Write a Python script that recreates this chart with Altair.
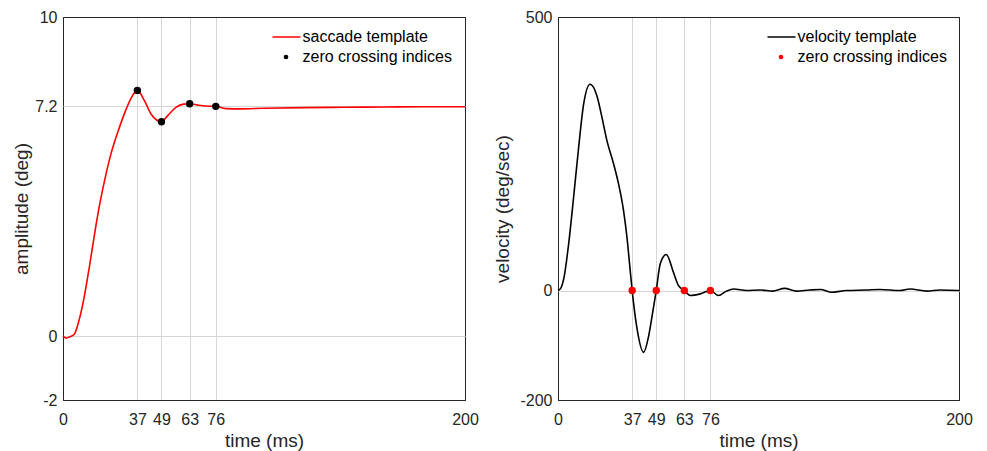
import altair as alt
import pandas as pd

FONT = "Liberation Sans"
TXT = "#262626"
GRID = "#d6d6d6"

# ---------------- data ----------------
# time axis tick labels / zero crossing indices (ms)
x_ticks = [0, 37, 49, 63, 76, 200]
zc_t = [37, 49, 63, 76]

# left panel: saccade (amplitude) template, deg
amp_t = [0, 1.5, 3, 5.7, 8.2, 10.7, 13.2, 15.7, 18.1, 20.6, 23.9, 27.2, 30.6, 33.9,
         37, 40.5, 43.8, 49, 52.1, 56.2, 60, 63, 67, 71, 76, 81, 88, 100, 120, 140,
         160, 180, 200]
amp_v = [0, -0.06, -0.03, 0.07, 0.55, 1.28, 2.2, 3.2, 4.08, 4.85, 5.72, 6.38, 6.98, 7.46,
         7.70, 7.38, 6.96, 6.72, 6.91, 7.17, 7.27, 7.28, 7.24, 7.21, 7.20, 7.13, 7.12, 7.14,
         7.16, 7.17, 7.18, 7.19, 7.19]
amp_zc = [7.70, 6.72, 7.28, 7.20]
amp_ticks = [-2, 0, 7.2, 10]

# right panel: velocity template, deg/sec
vel_t = [0, 1.5, 3, 5.3, 7.8, 10.3, 12.8, 16, 19.4, 21.9, 24.4, 27.7, 30.2, 32.7, 34.4,
         36, 37, 39.3, 42.7, 45.1, 47, 49, 51, 54, 57.6, 60.1, 63, 66, 71, 76, 80, 84,
         87.5, 94, 101, 107, 113, 119, 125.5, 131, 136, 144, 154, 160.5, 170.5, 175.5,
         184, 190.5, 200]
vel_v = [0, 5, 24, 85, 171, 262, 341, 377, 356, 317, 274, 232, 195, 146, 97,
         37, 0, -67, -113, -85, -45, 0, 49, 66, 33, 9, 0, -9, -6, 0, -9, -1,
         3, 0, 1, -1, 4, -1, 1, 2, -3, 0, 1, 2, 0, 3,
         -1, 1, 0]
vel_zc = [0, 0, 0, 0]
vel_ticks = [-200, 0, 500]


def edge_color(lo, hi):
    test = f"datum.value == {lo} || datum.value == {hi}"
    return alt.condition(test, alt.value(TXT), alt.value(GRID))


def panel(t, v, zc_v, line_name, line_color, dot_color, y_title, y_dom, y_vals,
          title_pad, width):
    df_line = pd.DataFrame({"t": t, "v": v, "series": line_name})
    df_pts = pd.DataFrame({"t": zc_t, "v": zc_v, "kind": "zero crossing indices"})

    x = alt.X("t:Q", title="time (ms)",
              scale=alt.Scale(domain=[0, 200], nice=False, zero=False),
              axis=alt.Axis(values=x_ticks, labelExpr="datum.value + ''",
                            labelFlush=False, labelOverlap=False, grid=True,
                            gridColor=edge_color(0, 200),
                            labelPadding=11, titlePadding=4))
    y = alt.Y("v:Q", title=y_title,
              scale=alt.Scale(domain=y_dom, nice=False, zero=False),
              axis=alt.Axis(values=y_vals, labelExpr="datum.value + ''",
                            labelFlush=False, labelOverlap=False, grid=True,
                            gridColor=edge_color(y_dom[0], y_dom[1]),
                            labelPadding=6, titlePadding=title_pad))

    line = alt.Chart(df_line).mark_line(strokeWidth=1.6, interpolate="monotone").encode(
        x=x, y=y,
        stroke=alt.Stroke("series:N",
                          scale=alt.Scale(domain=[line_name], range=[line_color]),
                          legend=alt.Legend(orient="none", legendX=208.5, legendY=5,
                                            title=None, symbolType="stroke",
                                            symbolSize=784, symbolStrokeWidth=1.5,
                                            labelOffset=1, padding=0)))
    pts = alt.Chart(df_pts).mark_circle(size=55, opacity=1).encode(
        x=x, y=y,
        fill=alt.Fill("kind:N",
                      scale=alt.Scale(domain=["zero crossing indices"], range=[dot_color]),
                      legend=alt.Legend(orient="none", legendX=215, legendY=32,
                                        title=None, symbolType="circle",
                                        symbolSize=22, symbolStrokeWidth=0,
                                        labelOffset=8.5, padding=0)))
    return alt.layer(line, pts).properties(width=width, height=383)


left = panel(amp_t, amp_v, amp_zc, "saccade template", "#ff0000", "#000000",
             "amplitude (deg)", [-2, 10], amp_ticks, 3, 402)
right = panel(vel_t, vel_v, vel_zc, "velocity template", "#000000", "#ff0000",
              "velocity (deg/sec)", [-200, 500], vel_ticks, 7, 401)

chart = (
    alt.hconcat(left, right, spacing=14)
    .resolve_scale(x="independent", y="independent", stroke="independent",
                   fill="independent")
    .resolve_legend(stroke="independent", fill="independent")
    .properties(padding={"left": 4, "top": 0, "right": 0, "bottom": 0})
    .configure_view(stroke=TXT, strokeWidth=1)
    .configure_axis(labelFont=FONT, titleFont=FONT, labelColor=TXT, titleColor=TXT,
                    labelFontSize=16, titleFontSize=19, titleFontWeight="normal",
                    domain=False, ticks=False, tickSize=0,
                    gridWidth=1, gridOpacity=1)
    .configure_legend(labelFont=FONT, labelFontSize=16, labelColor="#000000",
                      labelLimit=400)
)

chart.save("out.html", embed_options={"renderer": "svg", "actions": False})
